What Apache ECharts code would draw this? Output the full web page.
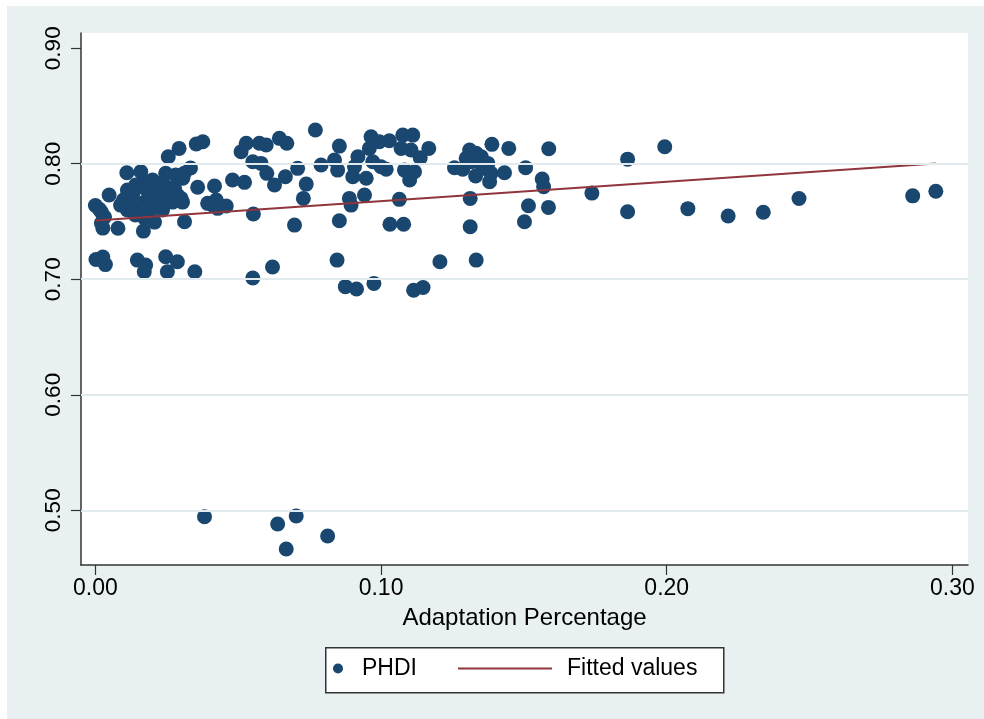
<!DOCTYPE html>
<html>
<head>
<meta charset="utf-8">
<title>PHDI vs Adaptation Percentage</title>
<script src="https://cdn.jsdelivr.net/npm/echarts@6.0.0/dist/echarts.min.js"></script>
<style>
  html, body { margin: 0; padding: 0; background: #fff; }
  #chart { width: 984px; height: 719px; }
</style>
</head>
<body>
<div id="chart"></div>
<script>
// scatter points
var adaptPct = [
  0.0000, 0.0014, 0.0021, 0.0032, 0.0021, 0.0026, 0.0048, 0.0079, 0.0002, 0.0026, 0.0035,
  0.0110, 0.0159, 0.0246, 0.0281, 0.0311, 0.0255, 0.0293, 0.0353, 0.0376,
  0.0168, 0.0112, 0.0141, 0.0171, 0.0200, 0.0229, 0.0358, 0.0417,
  0.0333, 0.0306, 0.0300, 0.0259, 0.0312,
  0.0393, 0.0423, 0.0458, 0.0428, 0.0411,
  0.0147, 0.0176, 0.0171, 0.0246, 0.0287, 0.0252, 0.0348,
  0.0098, 0.0130, 0.0112, 0.0140, 0.0172, 0.0189, 0.0200, 0.0172, 0.0228, 0.0252, 0.0287, 0.0270,
  0.0305, 0.0217, 0.0182, 0.0154, 0.0235, 0.0207, 0.0123, 0.0154, 0.0088, 0.0189, 0.0245, 0.0277,
  0.0480, 0.0522, 0.0510, 0.0528, 0.0574, 0.0598, 0.0644, 0.0670, 0.0551, 0.0580, 0.0600, 0.0627,
  0.0665, 0.0708, 0.0553, 0.0697, 0.0551, 0.0620, 0.0738, 0.0728, 0.0770,
  0.0382, 0.0638, 0.0703, 0.0668, 0.0813,
  0.0854, 0.0790, 0.0837, 0.0848, 0.0889, 0.0895, 0.0854, 0.0942, 0.0901, 0.0907, 0.0919, 0.0948,
  0.0965, 0.0959, 0.0994, 0.1029, 0.0971, 0.1000, 0.1018, 0.1076, 0.1111, 0.1070, 0.1105, 0.1082,
  0.1117, 0.1100, 0.1064, 0.1031, 0.1079, 0.0846, 0.0875, 0.0914, 0.0975, 0.1114, 0.1147, 0.1167, 0.1137,
  0.1206, 0.1310, 0.1333, 0.1351, 0.1298, 0.1316, 0.1374, 0.1356, 0.1257, 0.1286, 0.1385, 0.1331,
  0.1380, 0.1432, 0.1388, 0.1447, 0.1587, 0.1506, 0.1564, 0.1569, 0.1312, 0.1312, 0.1333, 0.1516,
  0.1586, 0.1502,
  0.1993, 0.1863, 0.1863, 0.1738, 0.2074, 0.2215, 0.2338, 0.2463, 0.2861, 0.2942
];
var phdi = [
  0.7639, 0.7605, 0.7582, 0.7539, 0.7487, 0.7443, 0.7729, 0.7441, 0.7171, 0.7192, 0.7127,
  0.7922, 0.7931, 0.7917, 0.7902, 0.7917, 0.8061, 0.8133, 0.8171, 0.8190,
  0.7417, 0.7772, 0.7816, 0.7844, 0.7859, 0.7830, 0.7796, 0.7807,
  0.7963, 0.7874, 0.7700, 0.7700, 0.7498,
  0.7657, 0.7686, 0.7634, 0.7614, 0.7642,
  0.7166, 0.7123, 0.7065, 0.7195, 0.7152, 0.7065, 0.7065,
  0.7686, 0.7729, 0.7599, 0.7556, 0.7530, 0.7573, 0.7642, 0.7668, 0.7703, 0.7729, 0.7729, 0.7668,
  0.7668, 0.7755, 0.7772, 0.7798, 0.7599, 0.7495, 0.7651, 0.7616, 0.7642, 0.7712, 0.7807, 0.7790,
  0.7859, 0.7839, 0.8104, 0.8177, 0.8177, 0.8162, 0.8220, 0.8177, 0.8017, 0.8003, 0.7917, 0.7816,
  0.7887, 0.7960, 0.7565, 0.7469, 0.7011, 0.7106, 0.7824, 0.7700, 0.8292,
  0.4944, 0.4881, 0.4950, 0.4664, 0.4777,
  0.8153, 0.7989, 0.8032, 0.7945, 0.7700, 0.7642, 0.7506, 0.7729, 0.7887, 0.7974, 0.8061, 0.7874,
  0.8234, 0.8133, 0.8190, 0.8199, 0.8017, 0.7974, 0.7952, 0.8248, 0.8248, 0.8133, 0.8119, 0.7945,
  0.7931, 0.7859, 0.7692, 0.7476, 0.7476, 0.7166, 0.6936, 0.6916, 0.6964, 0.6905, 0.6928, 0.8133, 0.8052,
  0.7151, 0.8119, 0.8090, 0.8061, 0.8047, 0.8017, 0.8003, 0.7960, 0.7965, 0.7952, 0.7917, 0.7894,
  0.7844, 0.7922, 0.8168, 0.8133, 0.8130, 0.7965, 0.7868, 0.7801, 0.7700, 0.7455, 0.7166, 0.7636,
  0.7622, 0.7498,
  0.8147, 0.8040, 0.7584, 0.7746, 0.7611, 0.7547, 0.7580, 0.7699, 0.7722, 0.7762
];

// fitted line end points
var fitX = [0.0002, 0.2942];
var fitY = [0.7508, 0.8003];

var xTicks = [0.00, 0.10, 0.20, 0.30];
var yTicks = [0.50, 0.60, 0.70, 0.80, 0.90];
var yGrid = [0.50, 0.60, 0.70, 0.80];

var fontFam = "'Liberation Sans', Arial, Helvetica, sans-serif";

var points = [];
for (var i = 0; i < adaptPct.length; i++) {
    points.push([adaptPct[i], phdi[i]]);
}
var fitted = [];
for (var j = 0; j < fitX.length; j++) {
    fitted.push([fitX[j], fitY[j]]);
}

var myChart = echarts.init(document.getElementById('chart'));
var option = {
    animation: false,
    textStyle: { fontFamily: fontFam },
    graphic: [
        { // outer panel
            type: 'rect', z: -10, left: 7, top: 6,
            shape: { width: 977, height: 713 },
            style: { fill: '#e8f0f2' }
        },
        { // legend box
            type: 'rect', z: 5, left: 325, top: 647,
            shape: { width: 398, height: 45 },
            style: { fill: '#fff', stroke: '#333', lineWidth: 1.5 }
        }
    ],
    grid: {
        left: 81, right: 16, top: 33, bottom: 154,
        show: true, backgroundColor: '#fff', borderWidth: 0
    },
    legend: [
        {
            data: ['PHDI'], left: 333, top: 657, padding: 0, z: 6,
            itemWidth: 10, itemHeight: 10,
            textStyle: { fontSize: 23, color: '#000', padding: [0, 0, 0, 14], fontFamily: fontFam }
        },
        {
            data: [{ name: 'Fitted values', icon: 'rect' }], left: 458, top: 657, padding: 0, z: 6,
            itemWidth: 94, itemHeight: 2,
            textStyle: { fontSize: 23, color: '#000', padding: [0, 0, 0, 10], fontFamily: fontFam }
        }
    ],
    xAxis: {
        type: 'value',
        min: -0.00504, max: 0.30546,
        name: 'Adaptation Percentage',
        nameLocation: 'middle',
        nameGap: 41,
        nameTextStyle: { fontSize: 24, color: '#000', fontFamily: fontFam },
        axisLine: { show: true, onZero: false, lineStyle: { color: '#333', width: 1.5 } },
        axisTick: { show: true, length: 10, customValues: xTicks, lineStyle: { color: '#333', width: 1.2 } },
        axisLabel: {
            customValues: xTicks, fontSize: 23, color: '#000', margin: 12,
            formatter: function (v) { return v.toFixed(2); }
        },
        splitLine: { show: false }
    },
    yAxis: {
        type: 'value',
        min: 0.4526, max: 0.9132,
        axisLine: { show: true, onZero: false, lineStyle: { color: '#333', width: 1.5 } },
        axisTick: { show: true, length: 10, customValues: yTicks, lineStyle: { color: '#333', width: 1.2 } },
        axisLabel: {
            customValues: yTicks, fontSize: 22.5, color: '#000', margin: 16, rotate: 90,
            formatter: function (v) { return v.toFixed(2); }
        },
        splitLine: { show: false }
    },
    series: [
        {
            name: 'grid',
            type: 'line',
            data: [],
            z: 1,
            silent: true,
            markLine: {
                silent: true,
                symbol: 'none',
                label: { show: false },
                lineStyle: { color: '#e1ebee', width: 2, type: 'solid' },
                data: yGrid.map(function (v) { return { yAxis: v }; })
            }
        },
        {
            name: 'PHDI',
            type: 'scatter',
            data: points,
            symbol: 'circle',
            symbolSize: 15,
            z: 2,
            itemStyle: { color: '#1a476f', opacity: 1 }
        },
        {
            name: 'Fitted values',
            type: 'line',
            data: fitted,
            symbol: 'none',
            showSymbol: false,
            z: 3,
            lineStyle: { color: '#90353b', width: 2 },
            itemStyle: { color: '#90353b' }
        }
    ]
};
myChart.setOption(option);
</script>
</body>
</html>
